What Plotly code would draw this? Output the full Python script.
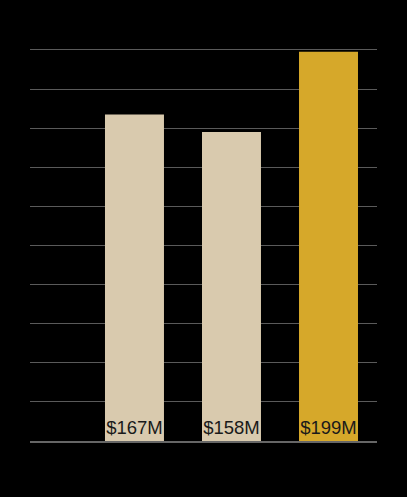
import plotly.graph_objects as go

categories = ["A", "B", "C"]
values = [167, 158, 199]
labels = ["$167M", "$158M", "$199M"]
colors = ["#D9CAAE", "#D9CAAE", "#D6A82A"]
y_ticks = [0, 20, 40, 60, 80, 100, 120, 140, 160, 180, 200]

fig = go.Figure(
    go.Bar(
        x=categories,
        y=values,
        text=labels,
        textposition="inside",
        insidetextanchor="start",
        constraintext="none",
        textangle=0,
        textfont=dict(family="Liberation Sans, Arial, sans-serif", size=18.5, color="#1a1a1a"),
        marker=dict(color=colors, line=dict(width=0)),
        width=0.608,
        hoverinfo="skip",
    )
)

fig.update_layout(
    width=407,
    height=497,
    margin=dict(l=30, r=30, t=46, b=56),
    paper_bgcolor="#000000",
    plot_bgcolor="#000000",
    showlegend=False,
    xaxis=dict(
        type="category",
        range=[-1.077, 2.5],
        showticklabels=False,
        showgrid=False,
        showline=True,
        linecolor="#666666",
        linewidth=2,
        ticks="",
    ),
    yaxis=dict(
        range=[0, 202],
        tickvals=y_ticks,
        showticklabels=False,
        showgrid=True,
        gridcolor="#5a5a5a",
        gridwidth=1,
        zeroline=False,
        ticks="",
    ),
)

fig.write_html(
    "out.html",
    config={"displayModeBar": False},
    post_script="document.body.style.margin='0';document.body.style.background='#000';",
)
